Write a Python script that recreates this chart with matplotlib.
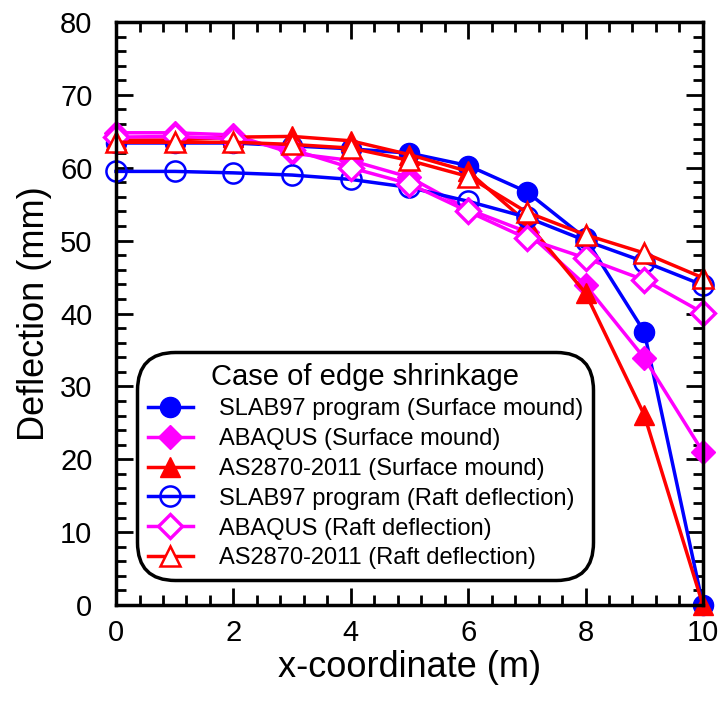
import matplotlib
matplotlib.use("Agg")
import matplotlib.pyplot as plt
from matplotlib.ticker import MultipleLocator

plt.rcParams['font.family'] = ['Liberation Sans', 'DejaVu Sans']

x = [0, 1, 2, 3, 4, 5, 6, 7, 8, 9, 10]
slab_surface = [63.4, 63.4, 63.4, 63.0, 62.6, 62.0, 60.3, 56.7, 50.3, 37.5, 0.0]
abaqus_surface = [64.8, 64.8, 64.5, 62.0, 61.0, 58.7, 54.3, 51.2, 43.9, 33.9, 21.0]
as_surface = [63.8, 63.8, 64.2, 64.3, 63.7, 61.8, 59.5, 52.5, 42.8, 26.1, 0.0]
slab_raft = [59.5, 59.5, 59.3, 59.0, 58.4, 57.3, 55.4, 53.2, 50.0, 47.1, 43.9]
abaqus_raft = [64.2, 64.3, 64.0, 62.5, 60.0, 57.8, 54.0, 50.3, 47.6, 44.6, 40.1]
as_raft = [63.5, 63.5, 63.5, 63.2, 62.7, 61.0, 58.8, 53.9, 50.8, 48.3, 44.9]

labels = ["SLAB97 program (Surface mound)", "ABAQUS (Surface mound)",
          "AS2870-2011 (Surface mound)", "SLAB97 program (Raft deflection)",
          "ABAQUS (Raft deflection)", "AS2870-2011 (Raft deflection)"]

fig = plt.figure(figsize=(7.18, 7.05), dpi=100)
ax = fig.add_axes([0.1616, 0.1418, 0.8174, 0.8270])

blue = '#0000ff'
mag = '#ff00ff'
red = '#ff0000'
lw = 2.5
ms = 14.5
dms = 12.5

ax.plot(x, slab_surface, color=blue, lw=lw, marker='o', ms=ms, mfc=blue, mec=blue, label=labels[0], clip_on=False)
ax.plot(x, abaqus_surface, color=mag, lw=lw, marker='D', ms=dms, mfc=mag, mec=mag, label=labels[1], clip_on=False)
ax.plot(x, as_surface, color=red, lw=lw, marker='^', ms=ms, mfc=red, mec=red, label=labels[2], clip_on=False)
ax.plot(x, slab_raft, color=blue, lw=lw, marker='o', ms=ms, mfc='none', mec=blue, mew=1.8, label=labels[3], clip_on=False)
ax.plot(x, abaqus_raft, color=mag, lw=lw, marker='D', ms=dms, mfc='white', mec=mag, mew=2.4, label=labels[4], clip_on=False)
ax.plot(x, as_raft, color=red, lw=lw, marker='^', ms=ms, mfc='white', mec=red, mew=1.8, label=labels[5], clip_on=False)

ax.set_xlim(0, 10)
ax.set_ylim(0, 80)
ax.xaxis.set_major_locator(MultipleLocator(2))
ax.xaxis.set_minor_locator(MultipleLocator(0.4))
ax.yaxis.set_major_locator(MultipleLocator(10))
ax.yaxis.set_minor_locator(MultipleLocator(2))
ax.tick_params(which='both', direction='in', top=True, right=True, width=2)
ax.tick_params(which='major', length=12, labelsize=21)
ax.tick_params(axis='y', which='major', pad=17)
ax.tick_params(axis='x', which='major', pad=10)
ax.tick_params(which='minor', length=7)
for s in ax.spines.values():
    s.set_linewidth(2.5)

ax.set_xlabel('x-coordinate (m)', fontsize=26, labelpad=2)
ax.set_ylabel('Deflection (mm)', fontsize=26, labelpad=6)

leg = ax.legend(loc='lower left', bbox_to_anchor=(0.036, 0.043), borderaxespad=0,
                fontsize=17, title='Case of edge shrinkage', title_fontsize=21,
                handlelength=1.9, handletextpad=1.1, labelspacing=0.33,
                borderpad=0.45, frameon=True, fancybox=True, framealpha=1)
frame = leg.get_frame()
frame.set_edgecolor('black')
frame.set_linewidth(2.5)
frame.set_boxstyle('round,pad=0.,rounding_size=1.6')

fig.savefig('out.png', dpi=100)
